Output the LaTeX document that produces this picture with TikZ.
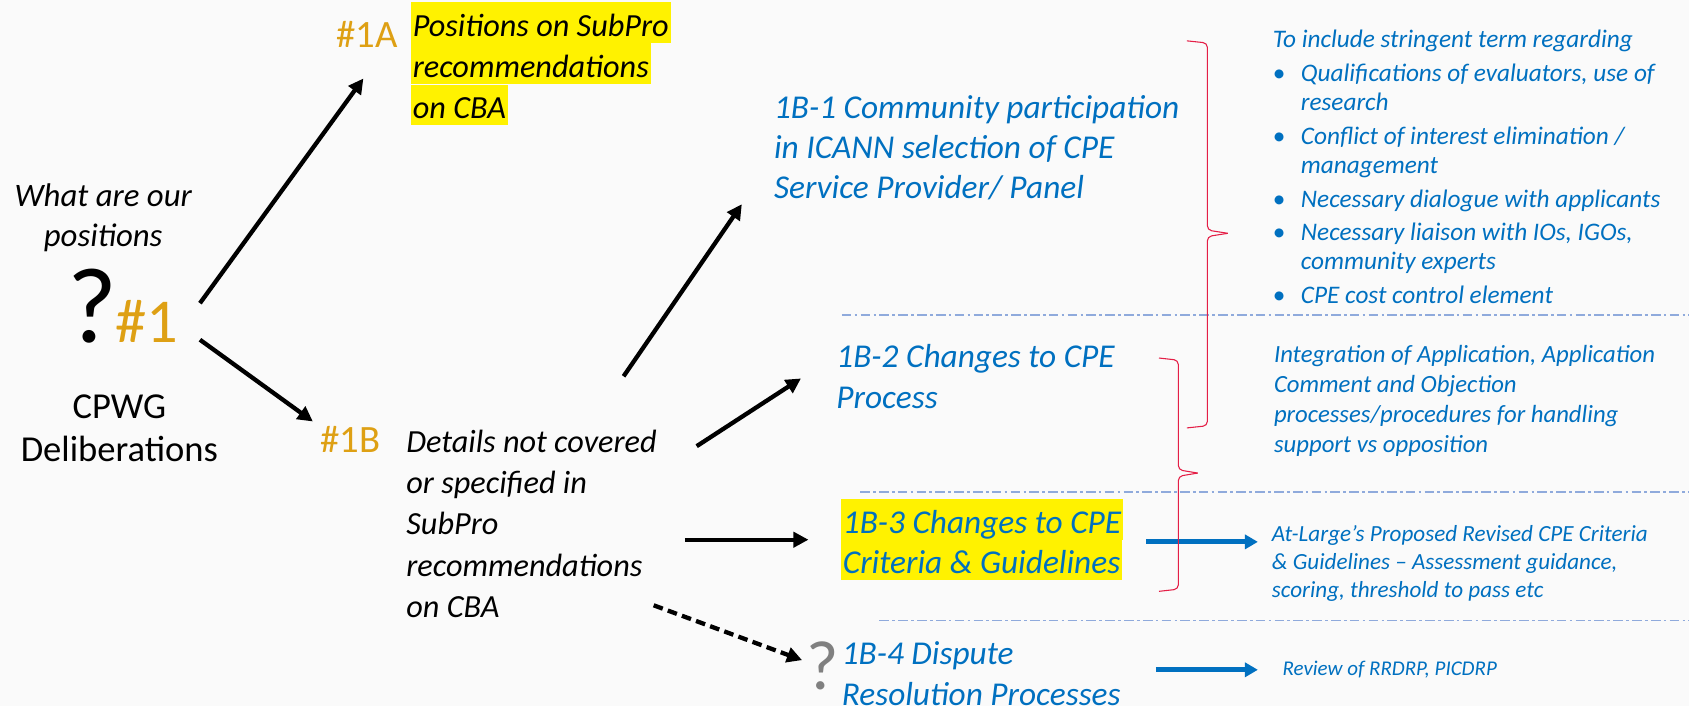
\documentclass[tikz,border=0pt]{standalone}
\usepackage{fontspec}
\setmainfont{Carlito}
\usetikzlibrary{arrows.meta}
\definecolor{gold}{RGB}{222,160,20}
\definecolor{cblue}{RGB}{0,112,192}
\definecolor{dashblue}{RGB}{143,170,220}
\definecolor{bred}{RGB}{228,30,70}
\definecolor{qgray}{RGB}{128,128,128}
\definecolor{bgpaper}{RGB}{250,250,250}
\newcommand\fsz[2]{\fontsize{#1}{#2}\selectfont}
\begin{document}
\begin{tikzpicture}[x=1pt,y=-1pt,
  every node/.style={inner sep=0pt, outer sep=0pt},
  blk/.style={font=\fsz{30}{38.3}\itshape, text=black, align=left, anchor=base west},
  lbl/.style={font=\fsz{31}{37.5}\itshape, text=cblue, align=left, anchor=base west},
  hl/.style={fill=yellow, inner xsep=2pt, inner ysep=0pt, text height=31.5pt, text depth=6.5pt, anchor=base west},
  side/.style={text=cblue, align=left, anchor=base west},
  num/.style={text=gold, anchor=base west, font=\fsz{36}{40}},
  arr/.style={draw=black, line width=4pt, -{Triangle[length=14pt,width=14pt]}},
  barr/.style={draw=cblue, line width=4.5pt, -{Triangle[length=12pt,width=13pt]}},
  brace/.style={draw=bred, line width=1pt, rounded corners=4pt},
  sep/.style={draw=dashblue, line width=1.3pt, dash pattern=on 9pt off 3pt on 2.5pt off 3pt}]
\fill[bgpaper] (0,0) rectangle (1571,657);
\useasboundingbox (0,0) rectangle (1571,657);

% left block (multi-line nodes are placed by the baseline of their last line)
\node[font=\fsz{30.5}{37}\itshape, align=center, anchor=base] (q) at (96,229) {What are our\\positions};
\node[font=\fsz{100}{100}, anchor=base] (qm) at (86,319) {?};
\node[num, font=\fsz{58}{60}] (n1) at (107,319) {\#1};
\node[font=\fsz{34}{40}, align=center, anchor=base] (cpwg) at (111,429) {CPWG\\Deliberations};

% 1A
\node[num] (n1a) at (313,44) {\#1A};
\node[hl, font=\fsz{30}{38}\itshape] (pa1) at (382,33.5) {Positions on SubPro\ };
\node[hl, font=\fsz{30}{38}\itshape] (pa2) at (382,71.8) {recommendations};
\node[hl, font=\fsz{30}{38}\itshape] (pa3) at (382,110.1) {on CBA};

% 1B
\node[num] (n1b) at (298,421) {\#1B};
\node[blk] (det) at (378,574.2) {Details not covered\\or specified in\\SubPro\\recommendations\\on CBA};

% 1B labels
\node[lbl] (b1) at (720,185) {1B-1 Community participation\\in ICANN selection of CPE\\Service Provider/ Panel};
\node[lbl] (b2) at (778,379.5) {1B-2 Changes to CPE\\Process};
\node[hl, font=\fsz{31}{37.5}\itshape, text=cblue] (b3a) at (782,496) {1B-3 Changes to CPE\ };
\node[hl, font=\fsz{31}{37.5}\itshape, text=cblue] (b3b) at (782,533) {Criteria \& Guidelines};
\node[font=\fsz{65}{65}, text=qgray, anchor=base] (qg) at (765,641) {?};
\node[lbl] (b4) at (783,656) {1B-4 Dispute\\Resolution Processes};

% right side texts
\node[side, font=\fsz{23.5}{27.5}\itshape] (s1) at (1184,282.1) {To include stringent term regarding\\[3.5pt]
\makebox[26pt][l]{\upshape\textbullet}Qualifications of evaluators, use of\\
\hspace*{26pt}research\\[3.5pt]
\makebox[26pt][l]{\upshape\textbullet}Conflict of interest elimination /\\
\hspace*{26pt}management\\[3.5pt]
\makebox[26pt][l]{\upshape\textbullet}Necessary dialogue with applicants\\[3.5pt]
\makebox[26pt][l]{\upshape\textbullet}Necessary liaison with IOs, IGOs,\\
\hspace*{26pt}community experts\\[3.5pt]
\makebox[26pt][l]{\upshape\textbullet}CPE cost control element};
\node[side, font=\fsz{23}{28}\itshape] (s2) at (1185,421) {Integration of Application, Application\\Comment and Objection\\processes/procedures for handling\\support vs opposition};
\node[side, font=\fsz{21.5}{25.7}\itshape] (s3) at (1183,555.4) {At-Large’s Proposed Revised CPE Criteria\\\& Guidelines – Assessment guidance,\\scoring, threshold to pass etc};
\node[side, font=\fsz{19.5}{24}\itshape] (s4) at (1193,628) {Review of RRDRP, PICDRP};

% connector coordinates
\coordinate (a1s) at (186,282); \coordinate (a1e) at (338,73);
\coordinate (a2s) at (186,316); \coordinate (a2e) at (291,392);
\coordinate (a3s) at (580,350); \coordinate (a3e) at (690,190);
\coordinate (a4s) at (648,415); \coordinate (a4e) at (745,352);
\coordinate (a5s) at (637,502); \coordinate (a5e) at (752,502);
\coordinate (a6s) at (608,563); \coordinate (a6e) at (746,614);
\coordinate (b1s) at (1066,504); \coordinate (b1e) at (1170,504);
\coordinate (b2s) at (1075,623); \coordinate (b2e) at (1170,623);

\draw[arr] (a1s) -- (a1e);
\draw[arr] (a2s) -- (a2e);
\draw[arr] (a3s) -- (a3e);
\draw[arr] (a4s) -- (a4e);
\draw[arr] (a5s) -- (a5e);
\draw[arr, dash pattern=on 9pt off 5pt] (a6s) -- (a6e);
\draw[barr] (b1s) -- (b1e);
\draw[barr] (b2s) -- (b2e);

% separators
\coordinate (l1s) at (783,293); \coordinate (l1e) at (1571,293);
\coordinate (l2s) at (800,457.5); \coordinate (l2e) at (1571,457.5);
\coordinate (l3s) at (818,577); \coordinate (l3e) at (1571,577);
\draw[sep] (l1s) -- (l1e);
\draw[sep] (l2s) -- (l2e);
\draw[sep] (l3s) -- (l3e);

% braces
\draw[brace] (1104,38) -- (1123,40) -- (1123,214) -- (1142,217);
\draw[brace] (1142,217) -- (1123,220) -- (1123,396) -- (1104,398);
\draw[brace] (1078,333) -- (1096,335) -- (1096,437) -- (1114,440);
\draw[brace] (1114,440) -- (1096,443) -- (1096,548) -- (1078,550);
\end{tikzpicture}
\end{document}
